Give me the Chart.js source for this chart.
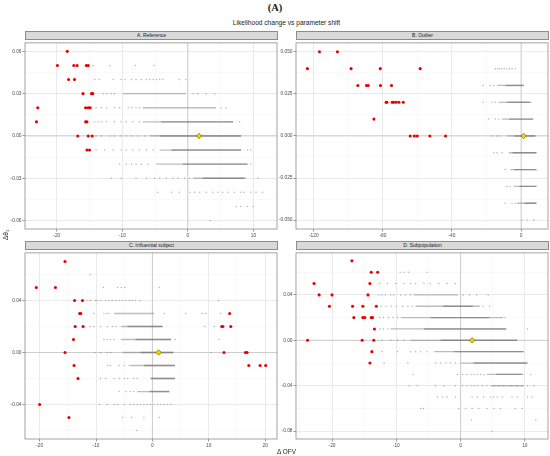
<!DOCTYPE html>
<html>
<head>
<meta charset="utf-8">
<script src="https://cdn.jsdelivr.net/npm/chart.js@4.4.1/dist/chart.umd.min.js"></script>
<style>
  body { margin: 0; background: #fff; }
  #fig { position: relative; width: 550px; height: 456px; overflow: hidden;
         font-family: "Liberation Sans", Arial, sans-serif; color: #1a1a1a; }
  #fig canvas { position: absolute; }
  .strip { position: absolute; box-sizing: border-box; height: 9px; width: 253px;
           background: #d9d9d9; border: 1px solid #8c8c8c; font-size: 5px;
           line-height: 7px; text-align: center; color: #1a1a1a; }
  #tag { position: absolute; left: 0; top: 2px; width: 550px; text-align: center;
         font: bold 10.5px "Liberation Serif", "DejaVu Serif", serif; line-height: 12px; }
  #title { position: absolute; left: 25px; top: 18px; width: 523px; text-align: center;
           font-size: 6.6px; line-height: 9px; }
  #ylab { position: absolute; left: -14px; top: 230px; width: 40px; line-height: 10px;
          text-align: center; font-size: 6.5px; transform: rotate(-90deg); }
  #xlab { position: absolute; left: 25px; top: 448px; width: 523px; text-align: center;
          font-size: 6.4px; line-height: 8px; }
</style>
</head>
<body>
<div id="fig">
  <div id="tag">(A)</div>
  <div id="title">Likelihood change vs parameter shift</div>
  <div class="strip" style="left:25px;top:31px">A. Reference</div>
  <div class="strip" style="left:296px;top:31px">B. Outlier</div>
  <div class="strip" style="left:25px;top:241px">C. Influential subject</div>
  <div class="strip" style="left:296px;top:241px">D. Subpopulation</div>
  <canvas id="panelA" width="278" height="202" style="left:0px;top:39px"></canvas>
  <canvas id="panelB" width="275" height="202" style="left:274px;top:39px"></canvas>
  <canvas id="panelC" width="278" height="202" style="left:0px;top:249px"></canvas>
  <canvas id="panelD" width="275" height="202" style="left:274px;top:249px"></canvas>
  <div id="ylab">Δθ₁</div>
  <div id="xlab">Δ OFV</div>
</div>
<script>
// ---- A. Reference ----
const xLimA = [-24.85, 13.6], yLimA = [-0.066, 0.066];
const xTicksA = [-20, -10, 0, 10], xLabelsA = ['-20', '-10', '0', '10'], xMinorA = [-15, -5, 5];
const yTicksA = [-0.06, -0.03, 0, 0.03, 0.06], yLabelsA = ['-0.06', '-0.03', '0.00', '0.03', '0.06'];
const yMinorA = [-0.045, -0.015, 0.015, 0.045];
const centreA = [[1.7, 0]];
const redA = [
  [-18.4, 0.06],
  [-19.9, 0.05], [-17.4, 0.05], [-16.9, 0.05], [-15.5, 0.05], [-15.2, 0.05],
  [-18.2, 0.04], [-17.3, 0.04],
  [-16.0, 0.03], [-14.7, 0.03], [-14.5, 0.03],
  [-22.9, 0.02], [-15.6, 0.02], [-15.2, 0.02], [-14.9, 0.02],
  [-23.1, 0.01], [-15.6, 0.01], [-15.4, 0.01],
  [-16.8, 0], [-15.2, 0], [-14.6, 0],
  [-15.4, -0.01], [-15.0, -0.01]
];
const grayA = [
  [0.05, [-14.5, -11.9, -8.0, -5.2]],
  [0.04, [-14.2, -13.5, -11.4, -10.2, -9.6, -8.6, -7.9, -7.1, -6.3, -5.8, -5.3, -4.8, -4.3, -3.8, -1.3, -0.3]],
  [0.03, [-12.9, -12.4, -11.7, -11.2, 0.8, 1.5, 2.8, 4.1]],
  [0.02, [-14.0, -13.2, -12.4, -11.2, -10.4, -9.1, -8.6, -7.9, -7.4, 5.1, 5.8]],
  [0.01, [-14.2, -13.7, -13.2, -12.4, -11.2, -10.2, -9.4, -8.4, -7.4, 7.9]],
  [0, [-14.0, -13.2, -11.9, -11.2, -10.2, -9.4, -8.6, -7.6, -6.6]],
  [-0.01, [-14.0, -12.7, -11.4, -10.2, -9.4, -8.4, -7.4, -6.3, -5.3, 9.1, 9.6]],
  [-0.02, [-10.4, -9.4, -8.6, -7.9, -7.1, -6.1, 9.6]],
  [-0.03, [-11.7, -10.2, -7.9, -6.3, -5.1, -4.3, -3.3, -2.3, -1.5, -0.5, 0.3, 10.7]],
  [-0.04, [-4.6, -2.5, -1.3, 0.3, 1.0, 1.8, 2.8, 3.8, 4.6, 5.3, 6.1, 7.1, 8.1, 8.6, 9.6, 10.4, 11.4]],
  [-0.05, [7.4, 8.1, 9.1, 9.9]],
  [-0.06, [3.4]]
];
// dense runs of points: [y, from, to]
const bandA = [[0.03, -9.9, -0.3], [0.02, -6.9, 4.3], [0.01, -6.9, 6.9], [0, -5.8, 8.1],
               [-0.01, -4.3, 8.1], [-0.02, -4.8, 9.1], [-0.03, 0.8, 8.9]];
const coreA = [[0.01, -4.1, 6.9], [0, -4.3, 8.1], [-0.01, -2.5, 8.1], [-0.02, -0.8, 9.1], [-0.03, 2.3, 8.6]];

// ---- B. Outlier ----
const xLimB = [-130.3, 15.6], yLimB = [-0.0553, 0.0553];
const xTicksB = [-120, -80, -40, 0], xLabelsB = ['-120', '-80', '-40', '0'], xMinorB = [-100, -60, -20];
const yTicksB = [-0.05, -0.025, 0, 0.025, 0.05], yLabelsB = ['-0.050', '-0.025', '0.000', '0.025', '0.050'];
const yMinorB = [-0.0375, -0.0125, 0.0125, 0.0375];
const centreB = [[1.5, 0]];
const redB = [
  [-116.7, 0.05], [-106.3, 0.05],
  [-123.7, 0.04], [-98.4, 0.04], [-81.5, 0.04], [-58.4, 0.04],
  [-94.5, 0.03], [-89.5, 0.03], [-88.5, 0.03], [-81.4, 0.03], [-75.0, 0.03],
  [-78.1, 0.02], [-77.7, 0.02], [-74.6, 0.02], [-73.8, 0.02], [-72.3, 0.02], [-70.7, 0.02], [-68.2, 0.02],
  [-85.2, 0.01],
  [-64.2, 0], [-61.8, 0], [-60.1, 0], [-52.8, 0], [-43.7, 0]
];
const grayB = [
  [0.04, [-14.9, -13.5, -12.4, -11.0, -9.7, -8.1, -6.6, -5.2, -3.3]],
  [0.03, [-22.0, -17.8, -15.8]],
  [0.02, [-22.0, -16.8, -14.9]],
  [0.01, [-18.7, -14.9, -12.9]],
  [0, [-16.8, -13.9, -12.0]],
  [-0.01, [-15.8, -13.9, -11.0]],
  [-0.02, [-9.1]],
  [-0.03, [-8.1, -6.2]],
  [-0.04, [-9.1, -5.2, -3.3]],
  [-0.05, [0.6, 3.5, 7.3]]
];
const bandB = [[0.03, -13.9, 1.5], [0.02, -12.9, 6.0], [0.01, -11.0, 7.0], [0, -8.1, 8.3],
               [-0.01, -7.1, 8.9], [-0.02, -6.2, 8.9], [-0.03, -4.3, 8.9], [-0.04, -2.3, 8.9]];
const coreB = [[0.03, -9.0, 1.5], [0.02, -8.0, 5.0], [0.01, -7.0, 7.0], [0, -4.0, 8.3],
               [-0.01, -5.0, 8.9], [-0.02, -4.0, 8.9], [-0.03, -1.0, 8.9], [-0.04, 2.0, 8.9]];

// ---- C. Influential subject ----
const xLimC = [-22.6, 22.1], yLimC = [-0.0665, 0.0766];
const xTicksC = [-20, -10, 0, 10, 20], xLabelsC = ['-20', '-10', '0', '10', '20'], xMinorC = [-15, -5, 5, 15];
const yTicksC = [-0.04, 0, 0.04], yLabelsC = ['-0.04', '0.00', '0.04'];
const yMinorC = [-0.06, -0.02, 0.02, 0.06];
const centreC = [[1.1, 0]];
const redC = [
  [-15.5, 0.07],
  [-20.6, 0.05], [-17.2, 0.05],
  [-13.8, 0.04], [-12.4, 0.04],
  [-12.9, 0.03], [-12.7, 0.03], [13.7, 0.03],
  [-13.7, 0.02], [-12.3, 0.02], [12.3, 0.02], [12.5, 0.02], [13.9, 0.02],
  [-14.0, 0.01],
  [-15.5, 0], [12.7, 0], [16.5, 0], [16.8, 0],
  [-13.9, -0.01], [17.1, -0.01], [19.1, -0.01], [20.1, -0.01],
  [-13.2, -0.02],
  [-20.0, -0.04],
  [-14.8, -0.05]
];
const grayC = [
  [0.06, [-11.0]],
  [0.05, [-8.7, -6.2, -5.5, -4.9, 1.2]],
  [0.04, [-11.6, -11.0, -10.1, -9.8, -9.2, -8.3, -7.7, -7.1, -6.5, -5.9, -5.3, -4.7, -4.1, -3.6, -3.0, -2.2, 11.7]],
  [0.03, [-10.4, -8.6, -8.1, -7.7, 2.1, 5.9, 8.9, 9.5, 12.1]],
  [0.02, [-11.0, -10.4, -9.2, -8.0, -7.1, -6.5, 9.3, 11.0]],
  [0.01, [-8.6, -8.0, -7.4, -6.8, 4.1, 11.8]],
  [0, [-10.2, -9.2, -8.0, -7.4, 10.4]],
  [-0.01, [-7.9, -7.4, -5.9, -5.0, -4.1]],
  [-0.02, [-9.2, -8.3, -6.8, -5.9, -5.0, -4.4, -3.3, -2.7]],
  [-0.03, [-5.9, -4.7, -3.9, -3.3]],
  [-0.04, [-9.4, -8.0, -6.8, -6.2, -5.0, -3.9, -3.3, -2.7, -2.1, -1.5, -0.9, -0.3, 0.3, 0.9, 1.5, 2.1, 2.7, 3.3]],
  [-0.05, [-5.3, -3.7, -1.5, 1.2]],
  [-0.06, [-2.8]]
];
const bandC = [[0.03, -6.8, 0.3], [0.02, -5.6, 1.8], [0.01, -5.6, 3.3], [0, -5.3, 3.7],
               [-0.01, -3.9, 4.0], [-0.02, -0.3, 4.0], [-0.03, -2.7, 3.0]];
const coreC = [[0.02, -4.4, 1.8], [0.01, -3.0, 3.3], [0, -2.1, 3.7], [-0.01, -1.5, 4.0],
               [-0.02, -0.3, 4.0], [-0.03, -0.5, 3.0]];

// ---- D. Subpopulation ----
const xLimD = [-25.6, 13.6], yLimD = [-0.0869, 0.077];
const xTicksD = [-20, -10, 0, 10], xLabelsD = ['-20', '-10', '0', '10'], xMinorD = [-25, -15, -5, 5];
const yTicksD = [-0.08, -0.04, 0, 0.04], yLabelsD = ['-0.08', '-0.04', '0.00', '0.04'];
const yMinorD = [-0.06, -0.02, 0.02, 0.06];
const centreD = [[1.8, 0]];
const redD = [
  [-16.9, 0.07],
  [-13.9, 0.06], [-12.9, 0.06],
  [-22.8, 0.05], [-14.1, 0.05],
  [-22.0, 0.04], [-20.0, 0.04], [-14.4, 0.04],
  [-20.4, 0.03], [-16.8, 0.03], [-15.2, 0.03], [-13.1, 0.03],
  [-16.6, 0.02], [-15.2, 0.02], [-14.9, 0.02], [-13.9, 0.02], [-13.7, 0.02],
  [-13.4, 0.01],
  [-23.8, 0], [-15.3, 0], [-13.5, 0],
  [-13.8, -0.01],
  [-14.1, -0.02]
];
const grayD = [
  [0.06, [-9.4, -8.8, -8.1, -5.2]],
  [0.05, [-12.6, -11.4, -10.1, -8.8, -7.8, -7.0, -5.7, -4.7, -3.4, -2.1, -0.8]],
  [0.04, [-12.7, -12.2, -11.7, -10.9, -10.4, -9.3, -8.6, -7.8, 0.4, 1.4, 2.5, 4.3]],
  [0.03, [-12.4, -11.6, -10.8, -10.0, -9.0, -8.2, -7.5, 3.5, 4.5]],
  [0.02, [-12.6, -12.0, -11.2, -10.5, -9.8, 6.9]],
  [0.01, [-12.5, -12.0, -11.3, 10.4]],
  [0, [-12.2, -10.9, -9.8, -8.8]],
  [-0.01, [-12.2, -9.8, -7.8, -7.0, -6.2, -5.2]],
  [-0.02, [-11.9, -8.2, -3.9, -3.1, -2.3, -1.6, -0.8]],
  [-0.03, [-7.4, -0.5, 0.3, 1.0, 1.6, 2.1, 2.6, 3.1, 3.6, 10.9]],
  [-0.04, [-8.0, -6.7, -3.9, -2.6, -0.8, 0.3, 1.0, 1.6, 2.1, 2.6, 3.4, 4.1, 5.2, 6.0, 6.7, 7.8, 8.8, 9.6, 10.4, 11.4]],
  [-0.05, [-3.6, -2.8, -2.1, -0.8, 1.8, 2.6, 3.6, 4.7, 5.2, 5.7, 6.5, 8.0, 8.8, 10.4, 11.1]],
  [-0.06, [-6.2, -5.8, -0.3, 0.8, 1.8, 2.8, 4.1, 5.2, 6.2, 8.5, 9.6]],
  [-0.07, [1.7, 11.7]],
  [-0.08, [4.9]]
];
const bandD = [[0.04, -7.3, -0.4], [0.03, -7.0, 3.0], [0.02, -9.3, 6.6], [0.01, -10.9, 7.1], [0, -7.8, 8.8],
               [-0.01, -4.1, 9.8], [-0.02, 0, 10.4], [-0.03, 4.1, 9.8], [-0.04, 4.7, 9.8]];
const coreD = [[0.03, -2.7, 1.9], [0.02, -4.7, 4.5], [0.01, -5.7, 7.1], [0, -3.1, 8.8],
               [-0.01, -1.0, 9.8], [-0.02, 2.0, 10.4], [-0.03, 5.5, 9.5]];

const pts = arr => arr.map(([x, y]) => ({ x, y }));
const rows = arr => arr.flatMap(([y, xs]) => xs.map(x => ({ x, y })));
const segs = arr => arr.flatMap(([y, a, b]) => [{ x: a, y }, { x: b, y }, { x: b, y: null }]);

// zero reference lines + panel border
const panelFrame = {
  id: 'panelFrame',
  beforeDatasetsDraw(chart) {
    const { ctx, chartArea: a, scales: { x, y } } = chart;
    const x0 = x.getPixelForValue(0), y0 = y.getPixelForValue(0);
    ctx.save();
    ctx.strokeStyle = '#c6c6c6';
    ctx.lineWidth = 0.8;
    ctx.beginPath();
    ctx.moveTo(x0, a.top); ctx.lineTo(x0, a.bottom);
    ctx.moveTo(a.left, y0); ctx.lineTo(a.right, y0);
    ctx.stroke();
    ctx.restore();
  },
  afterDraw(chart) {
    const { ctx, chartArea: a } = chart;
    ctx.save();
    ctx.strokeStyle = '#8c8c8c';
    ctx.lineWidth = 0.8;
    ctx.strokeRect(a.left, a.top, a.right - a.left, a.bottom - a.top);
    ctx.restore();
  }
};

function axis(lim, major, labels, minor, size, isX) {
  const isMajor = c => c.tick && major.includes(c.tick.value);
  return {
    type: 'linear',
    bounds: 'data',
    min: lim[0],
    max: lim[1],
    afterBuildTicks: s => {
      s.ticks = major.concat(minor).sort((a, b) => a - b).map(v => ({ value: v }));
    },
    afterFit: s => { if (isX) s.height = size; else s.width = size; },
    border: { display: false },
    grid: {
      color: c => isMajor(c) ? '#e4e4e4' : '#f2f2f2',
      lineWidth: c => isMajor(c) ? 0.8 : 0.5,
      tickLength: 2.5,
      tickWidth: 0.6,
      tickColor: c => isMajor(c) ? '#555' : 'rgba(0,0,0,0)'
    },
    ticks: {
      autoSkip: false,
      maxRotation: 0,
      padding: 1,
      color: '#4d4d4d',
      font: { size: 4.8 },
      callback: v => {
        const i = major.indexOf(v);
        return i < 0 ? '' : labels[i];
      }
    }
  };
}

function drawPanel(id, yAxisW, p) {
  new Chart(document.getElementById(id), {
    type: 'scatter',
    data: {
      datasets: [
        { data: pts(p.centre), pointStyle: 'rectRot', pointRadius: 2.7,
          backgroundColor: '#f5d200', borderColor: '#5a5000', borderWidth: 0.6, order: 0 },
        { data: pts(p.red), pointRadius: 1.55, backgroundColor: '#e60000', borderWidth: 0, order: 1 },
        { data: rows(p.gray), pointRadius: 0.75, backgroundColor: 'rgba(110,110,110,0.5)', borderWidth: 0, order: 2 },
        { type: 'line', data: segs(p.core), borderColor: 'rgba(105,105,105,0.55)', borderWidth: 1.4,
          pointRadius: 0, tension: 0, fill: false, spanGaps: false, order: 3 },
        { type: 'line', data: segs(p.band), borderColor: 'rgba(135,135,135,0.55)', borderWidth: 1.3,
          pointRadius: 0, tension: 0, fill: false, spanGaps: false, order: 4 }
      ]
    },
    options: {
      responsive: false,
      animation: false,
      events: [],
      layout: { autoPadding: false, padding: { top: 1, right: 1, left: 0, bottom: 0 } },
      plugins: { legend: { display: false }, tooltip: { enabled: false } },
      scales: {
        x: axis(p.xLim, p.xTicks, p.xLabels, p.xMinor, 12, true),
        y: axis(p.yLim, p.yTicks, p.yLabels, p.yMinor, yAxisW, false)
      }
    },
    plugins: [panelFrame]
  });
}

Chart.defaults.font.family = '"Liberation Sans", Arial, sans-serif';

drawPanel('panelA', 25, { xLim: xLimA, yLim: yLimA, xTicks: xTicksA, xLabels: xLabelsA, xMinor: xMinorA,
  yTicks: yTicksA, yLabels: yLabelsA, yMinor: yMinorA, centre: centreA, red: redA, gray: grayA, band: bandA, core: coreA });
drawPanel('panelB', 22, { xLim: xLimB, yLim: yLimB, xTicks: xTicksB, xLabels: xLabelsB, xMinor: xMinorB,
  yTicks: yTicksB, yLabels: yLabelsB, yMinor: yMinorB, centre: centreB, red: redB, gray: grayB, band: bandB, core: coreB });
drawPanel('panelC', 25, { xLim: xLimC, yLim: yLimC, xTicks: xTicksC, xLabels: xLabelsC, xMinor: xMinorC,
  yTicks: yTicksC, yLabels: yLabelsC, yMinor: yMinorC, centre: centreC, red: redC, gray: grayC, band: bandC, core: coreC });
drawPanel('panelD', 22, { xLim: xLimD, yLim: yLimD, xTicks: xTicksD, xLabels: xLabelsD, xMinor: xMinorD,
  yTicks: yTicksD, yLabels: yLabelsD, yMinor: yMinorD, centre: centreD, red: redD, gray: grayD, band: bandD, core: coreD });
</script>
</body>
</html>
